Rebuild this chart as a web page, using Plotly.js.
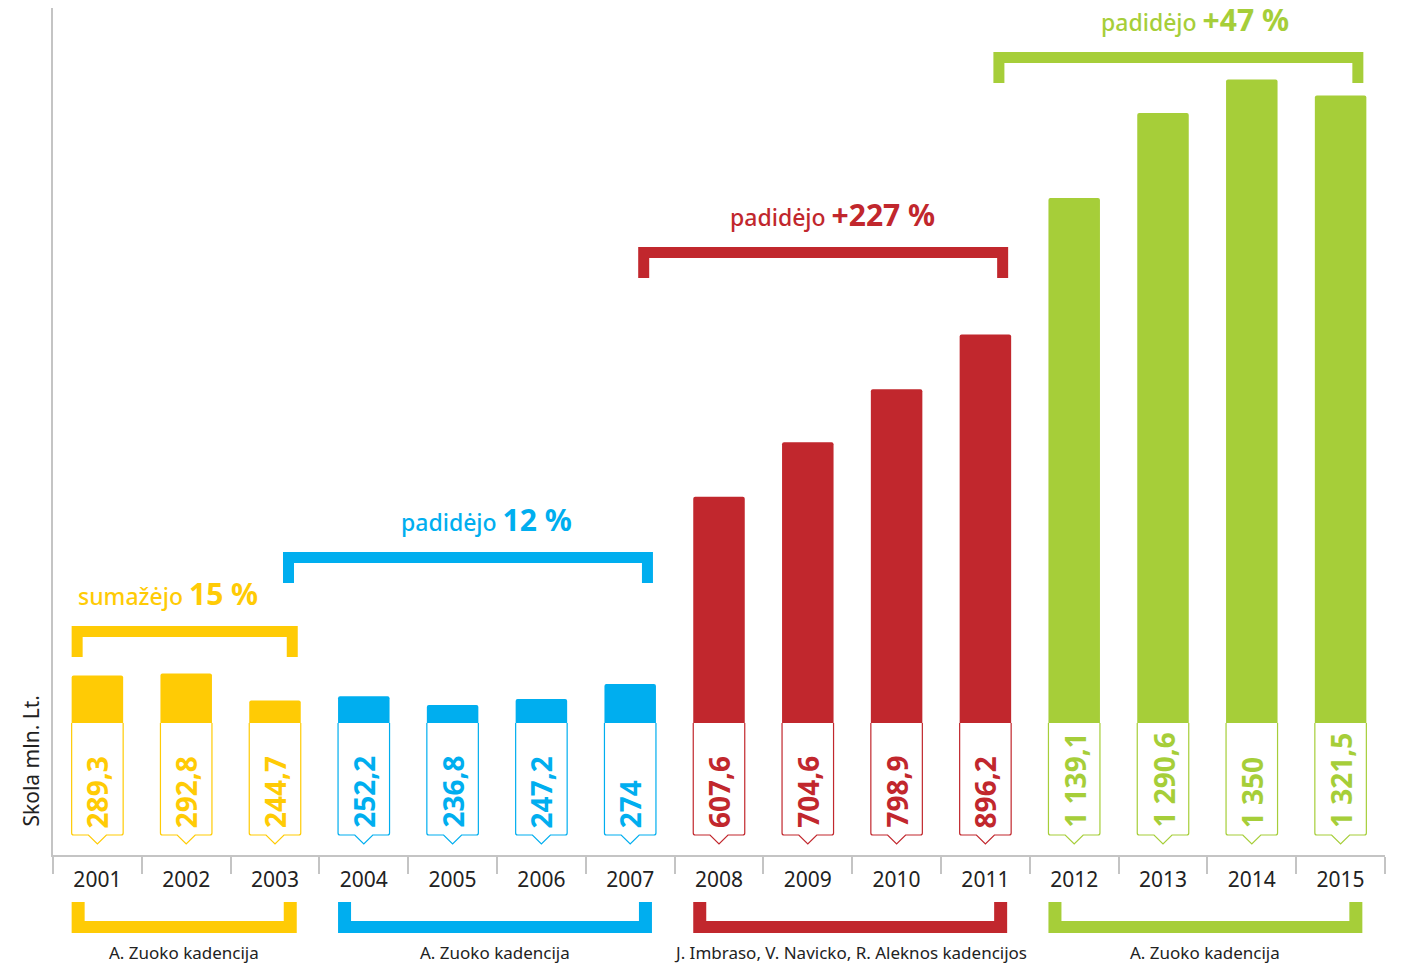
<!DOCTYPE html>
<html><head><meta charset="utf-8">
<script src="https://cdn.plot.ly/plotly-3.0.1.min.js"></script>
<style>html,body{margin:0;padding:0;background:#fff}#chart{width:1423px;height:965px}</style>
</head><body><div id="chart"></div>
<script>
// ---------- data ----------
const years = ['2001','2002','2003','2004','2005','2006','2007','2008','2009','2010','2011','2012','2013','2014','2015'];
const debt = [289.3, 292.8, 244.7, 252.2, 236.8, 247.2, 274, 607.6, 704.6, 798.9, 896.2, 1139.1, 1290.6, 1350, 1321.5];
const yAxisTitle = 'Skola mln. Lt.';

// terms of office (bottom brackets)
const termFirst = ['2001','2004','2008','2012'];
const termLast  = ['2003','2007','2011','2015'];
const termLabels = ['A. Zuoko kadencija','A. Zuoko kadencija','J. Imbraso, V. Navicko, R. Aleknos kadencijos','A. Zuoko kadencija'];

// change over each period (top brackets)
const changeFrom = ['2001','2003','2007','2011'];
const changeTo   = ['2003','2007','2011','2015'];
const changeWords  = ['sumažėjo','padidėjo','padidėjo','padidėjo'];
const changeValues = ['15 %','12 %','+227 %','+47 %'];

// ---------- style / layout ----------
const termColors = ['#FFCB05','#00AEEF','#C1272D','#A6CE39'];
const FONT = 'Noto Sans, Open Sans, sans-serif';
const PLOT_TOP = 8, PLOT_BOTTOM = 855, PLOT_LEFT = 53, PLOT_RIGHT = 1385;
const PH = PLOT_BOTTOM - PLOT_TOP, PW = PLOT_RIGHT - PLOT_LEFT;
const N = years.length;
const BAR_W = 0.58;
const topBracketPx = [626, 552, 247, 52];
const topLabelShiftPx = [-17, 19, 9, 17];

const py = p => (PLOT_BOTTOM - p) / PH;
const dx = p => p / PW;
const cx = i => (i + 0.5) / N;
const hw = BAR_W / 2 / N;
const idx = y => years.indexOf(y);

const groupOf = i => termFirst.findIndex((f, k) => i >= idx(f) && i <= idx(termLast[k]));
const barColors = years.map((y, i) => termColors[groupOf(i)]);

function fmt(v) {
  const s = v.toFixed(1).replace(/\.0$/, '');
  let [ip, dp] = s.split('.');
  ip = ip.replace(/\B(?=(\d{3})+(?!\d))/g, ' ');
  return dp ? ip + ',' + dp : ip;
}

const shapes = [];
const annotations = [];

// label boxes under bar tops
years.forEach((y, i) => {
  const c = cx(i), col = barColors[i];
  shapes.push({type:'rect', xref:'paper', yref:'paper', layer:'above',
    x0: c - hw - dx(1.5), x1: c + hw + dx(1.5), y0: py(850), y1: py(723),
    fillcolor:'#ffffff', line:{width:0}});
  const L = c - hw, R = c + hw;
  const path = `M${L},${py(723)} L${L},${py(833)} Q${L},${py(835)} ${L+dx(2)},${py(835)} ` +
    `L${c-dx(9)},${py(835)} L${c},${py(844)} L${c+dx(9)},${py(835)} ` +
    `L${R-dx(2)},${py(835)} Q${R},${py(835)} ${R},${py(833)} L${R},${py(723)}`;
  shapes.push({type:'path', xref:'paper', yref:'paper', layer:'above', path,
    fillcolor:'rgba(0,0,0,0)', line:{color:col, width:1.2}});
  annotations.push({xref:'paper', yref:'paper', x:c, y:py(830), xanchor:'center', yanchor:'bottom',
    textangle:-90, showarrow:false, text: fmt(debt[i]),
    font:{family:FONT, size:28, color:col, weight:700}});
});

// top brackets
changeFrom.forEach((f, k) => {
  const i0 = idx(f), i1 = idx(changeTo[k]);
  const L = k === 0 ? cx(i0) - hw : cx(i0) + dx(8);
  const R = cx(i1) + hw - dx(3);
  const T = topBracketPx[k], t = 11, leg = 31, w = dx(11);
  const col = termColors[k];
  shapes.push({type:'path', xref:'paper', yref:'paper', layer:'above', fillcolor:col, line:{width:0},
    path:`M${L},${py(T+leg)} L${L},${py(T)} L${R},${py(T)} L${R},${py(T+leg)} L${R-w},${py(T+leg)} L${R-w},${py(T+t)} L${L+w},${py(T+t)} L${L+w},${py(T+leg)} Z`});
  annotations.push({xref:'paper', yref:'paper', x:(L+R)/2 + dx(topLabelShiftPx[k]), y:py(T-10),
    xanchor:'center', yanchor:'bottom', showarrow:false,
    text:`<span style="font-size:23px">${changeWords[k]}</span> <b style="font-size:30px">${changeValues[k]}</b>`,
    font:{family:FONT, size:23, color:col, weight:500}});
});

// bottom brackets
termFirst.forEach((f, k) => {
  const i0 = idx(f), i1 = idx(termLast[k]);
  const L = cx(i0) - hw, R = cx(i1) + hw - dx(4);
  const w = dx(13), yTop = 902, yBot = 933, t = 12;
  const col = termColors[k];
  shapes.push({type:'path', xref:'paper', yref:'paper', layer:'above', fillcolor:col, line:{width:0},
    path:`M${L},${py(yTop)} L${L},${py(yBot)} L${R},${py(yBot)} L${R},${py(yTop)} L${R-w},${py(yTop)} L${R-w},${py(yBot-t)} L${L+w},${py(yBot-t)} L${L+w},${py(yTop)} Z`});
  annotations.push({xref:'paper', yref:'paper', x:(L+R)/2, y:py(952), xanchor:'center', yanchor:'middle',
    showarrow:false, text: termLabels[k], font:{family:FONT, size:17, color:'#222'}});
});

// y axis title
annotations.push({xref:'paper', yref:'paper', x:dx(30-PLOT_LEFT), y:py(829), xanchor:'center', yanchor:'bottom',
  textangle:-90, showarrow:false, text:yAxisTitle, font:{family:FONT, size:21, color:'#222'}});

const trace = {type:'bar', x:years, y:debt, width:BAR_W,
  marker:{color:barColors, cornerradius:2, line:{width:0}},
  hoverinfo:'x+y', showlegend:false};

const layout = {
  width:1423, height:965,
  margin:{l:PLOT_LEFT, r:1423-PLOT_RIGHT, t:PLOT_TOP, b:965-PLOT_BOTTOM, pad:0},
  paper_bgcolor:'#fff', plot_bgcolor:'#fff',
  font:{family:FONT, color:'#222'},
  xaxis:{type:'category', range:[-0.5, N-0.5], showline:true, linecolor:'#c4c4c4', linewidth:2,
    ticks:'outside', tickson:'boundaries', ticklen:17, tickwidth:2, tickcolor:'#c4c4c4',
    ticklabelstandoff:5,
    tickfont:{family:FONT, size:21, color:'#222'}, showgrid:false, zeroline:false},
  yaxis:{range:[-30.26, 1477.4], showline:true, linecolor:'#c4c4c4', linewidth:2,
    showticklabels:false, ticks:'', showgrid:false, zeroline:false},
  shapes, annotations, bargap:0.42
};

Plotly.newPlot('chart', [trace], layout, {displayModeBar:false, staticPlot:true});
</script>
</body></html>
